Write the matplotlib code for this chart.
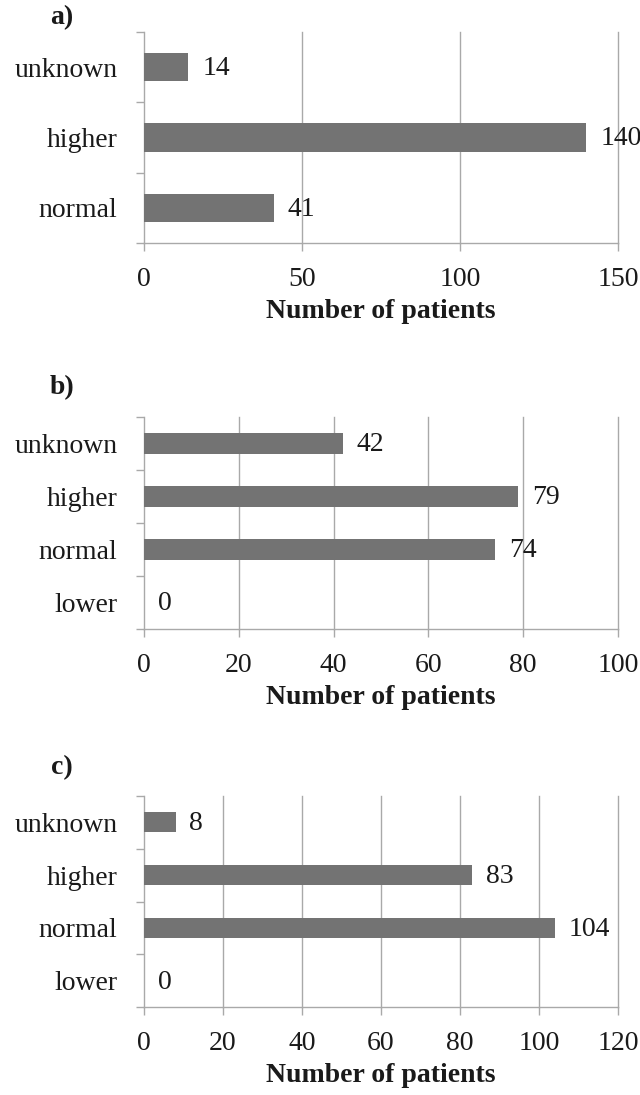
import matplotlib
matplotlib.use("Agg")
import matplotlib.pyplot as plt
from matplotlib.ticker import FixedLocator

plt.rcParams["font.family"] = ["Liberation Serif", "DejaVu Serif"]

# Panel a)
cats_a = ["normal", "higher", "unknown"]
vals_a = [41, 140, 14]
xticks_a = [0, 50, 100, 150]

# Panel b)
cats_b = ["lower", "normal", "higher", "unknown"]
vals_b = [0, 74, 79, 42]
xticks_b = [0, 20, 40, 60, 80, 100]

# Panel c)
cats_c = ["lower", "normal", "higher", "unknown"]
vals_c = [0, 104, 83, 8]
xticks_c = [0, 20, 40, 60, 80, 100, 120]

panels = [
    ("a)", cats_a, vals_a, xticks_a, 0.40),
    ("b)", cats_b, vals_b, xticks_b, 0.38),
    ("c)", cats_c, vals_c, xticks_c, 0.38),
]

W, H = 640, 1095
# axes boxes in pixels: (left, top, right, bottom)
boxes = [(144, 32, 618, 243), (144, 417, 618, 629), (144, 796, 618, 1007)]
tag_y = [18, 388, 768]

BAR = "#737373"
GRID = "#a9a9a9"
TXT = "#1a1a1a"
FS = 20

fig = plt.figure(figsize=(W / 100, H / 100), dpi=100)

for (tag, cats, vals, xt, bh), (l, t, r, b), ty in zip(panels, boxes, tag_y):
    ax = fig.add_axes([l / W, 1 - b / H, (r - l) / W, (b - t) / H])
    y = list(range(len(cats)))
    ax.barh(y, vals, height=bh, color=BAR, linewidth=0, zorder=3)
    for yi, v in zip(y, vals):
        ax.annotate(str(v), xy=(v, yi), xytext=(10, -1), textcoords="offset points",
                    va="center", ha="left", fontsize=FS, color=TXT, zorder=4)
    ax.set_xlim(xt[0], xt[-1])
    ax.set_ylim(-0.5, len(cats) - 0.5)
    ax.set_xticks(xt)
    ax.set_xticklabels([str(v) for v in xt], fontsize=FS, color=TXT)
    ax.set_yticks(y)
    ax.set_yticklabels(cats, fontsize=FS, color=TXT)
    ax.yaxis.set_minor_locator(FixedLocator([i - 0.5 for i in range(len(cats) + 1)]))
    ax.tick_params(axis="y", which="major", length=0, pad=19)
    ax.tick_params(axis="y", which="minor", length=6, width=1, color=GRID)
    ax.tick_params(axis="x", which="major", length=6, width=1, color=GRID, pad=11)
    for xv in xt[1:]:
        ax.axvline(xv, color=GRID, linewidth=1, zorder=1, clip_on=False)
    for s in ["top", "right"]:
        ax.spines[s].set_visible(False)
    for s in ["left", "bottom"]:
        ax.spines[s].set_color(GRID)
        ax.spines[s].set_linewidth(1)
    ax.set_xlabel("Number of patients", fontsize=FS, fontweight="bold", color=TXT, labelpad=5)
    fig.text(62 / W, 1 - ty / H, tag, fontsize=FS, fontweight="bold", color=TXT,
             ha="center", va="center")

fig.savefig("out.png", dpi=100, facecolor="white")
